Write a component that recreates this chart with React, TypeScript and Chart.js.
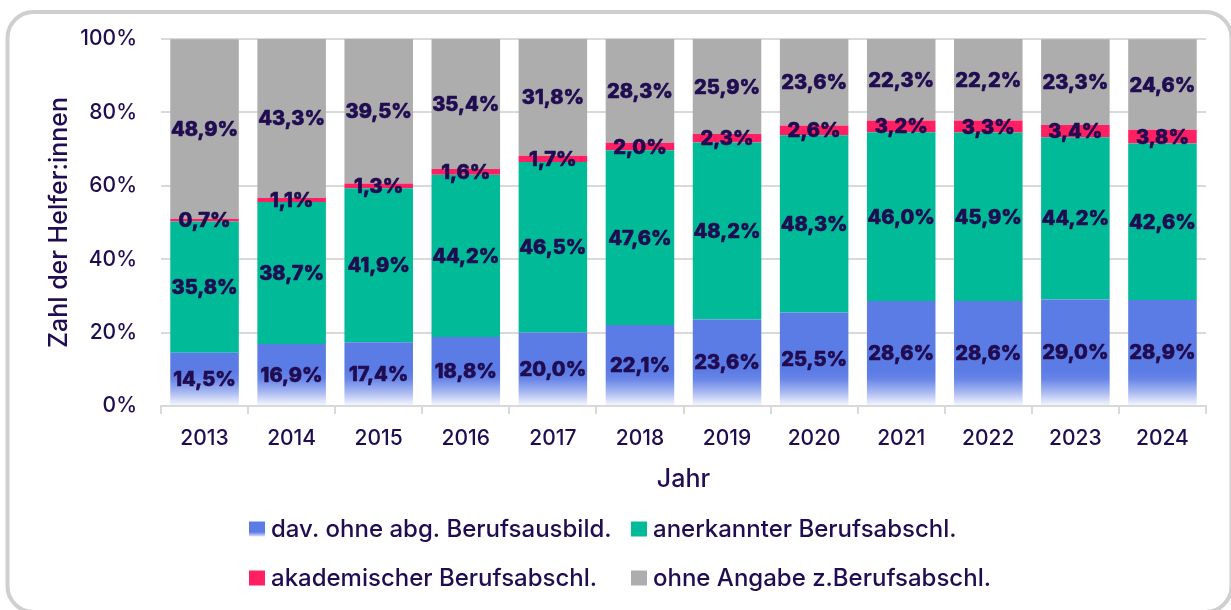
import React, { useEffect, useRef } from 'react';
import { Chart, registerables } from 'chart.js';

Chart.register(...registerables);

// ---- data ----
const years = ['2013', '2014', '2015', '2016', '2017', '2018', '2019', '2020', '2021', '2022', '2023', '2024'];
const ohneAbgBerufsausbildung = [14.5, 16.9, 17.4, 18.8, 20.0, 22.1, 23.6, 25.5, 28.6, 28.6, 29.0, 28.9];
const anerkannterAbschluss = [35.8, 38.7, 41.9, 44.2, 46.5, 47.6, 48.2, 48.3, 46.0, 45.9, 44.2, 42.6];
const akademischerAbschluss = [0.7, 1.1, 1.3, 1.6, 1.7, 2.0, 2.3, 2.6, 3.2, 3.3, 3.4, 3.8];
const ohneAngabe = [48.9, 43.3, 39.5, 35.4, 31.8, 28.3, 25.9, 23.6, 22.3, 22.2, 23.3, 24.6];
const seriesLabels = [
  'dav. ohne abg. Berufsausbild.',
  'anerkannter Berufsabschl.',
  'akademischer Berufsabschl.',
  'ohne Angabe z.Berufsabschl.',
];
const yAxisTitle = 'Zahl der Helfer:innen';
const xAxisTitle = 'Jahr';

// ---- styles ----
const TEXT = '#200C50';
const FONT = 'Inter, "Noto Sans", sans-serif';
const BLUE = '#5B7BE5';
const GREEN = '#00BA98';
const PINK = '#FF1F63';
const GRAY = '#ADADAD';
const GRID = '#D9D9D9';

const fmt = (v: number) => v.toFixed(1).replace('.', ',') + '%';

function blueGradient(c: CanvasRenderingContext2D, bottom: number, span: number) {
  const g = c.createLinearGradient(0, bottom, 0, bottom - span);
  g.addColorStop(0, 'rgba(91,123,229,0.04)');
  g.addColorStop(0.4, 'rgba(91,123,229,0.55)');
  g.addColorStop(0.75, 'rgba(91,123,229,0.92)');
  g.addColorStop(1, BLUE);
  return g;
}

const framePlugin = {
  id: 'frame',
  beforeDraw(chart: any) {
    const c = chart.ctx as CanvasRenderingContext2D;
    c.save();
    c.fillStyle = '#ffffff';
    c.fillRect(0, 0, chart.width, chart.height);
    c.strokeStyle = '#CFCFCF';
    c.lineWidth = 4;
    c.beginPath();
    (c as any).roundRect(7.5, 12, 1224, 600, 26);
    c.stroke();
    c.restore();
  },
};

const labelPlugin = {
  id: 'segLabels',
  afterDatasetsDraw(chart: any) {
    const c = chart.ctx as CanvasRenderingContext2D;
    c.save();
    c.font = `800 20px ${FONT}`;
    c.fillStyle = TEXT;
    c.strokeStyle = TEXT;
    c.lineWidth = 0.6;
    c.lineJoin = 'round';
    c.textAlign = 'center';
    c.textBaseline = 'middle';
    chart.data.datasets.forEach((ds: any, di: number) => {
      const meta = chart.getDatasetMeta(di);
      meta.data.forEach((bar: any, i: number) => {
        const v = ds.data[i];
        const y = (bar.y + bar.base) / 2;
        c.fillText(fmt(v), bar.x, y + 1);
        c.strokeText(fmt(v), bar.x, y + 1);
      });
    });
    c.restore();
  },
};

const legendPlugin = {
  id: 'gridLegend',
  afterDraw(chart: any) {
    const c = chart.ctx as CanvasRenderingContext2D;
    const cols = [249, 631];
    const rows = [529, 578];
    c.save();
    c.font = `500 24px ${FONT}`;
    c.fillStyle = TEXT;
    c.textAlign = 'left';
    c.textBaseline = 'middle';
    chart.data.datasets.forEach((ds: any, i: number) => {
      const x = cols[i % 2];
      const y = rows[Math.floor(i / 2)];
      if (i === 0) {
        const g = c.createLinearGradient(0, y + 7.5, 0, y - 7.5);
        g.addColorStop(0, 'rgba(91,123,229,0.2)');
        g.addColorStop(0.3, BLUE);
        g.addColorStop(1, BLUE);
        c.fillStyle = g;
      } else {
        c.fillStyle = ds.legendColor;
      }
      c.fillRect(x, y - 7.5, 16, 15);
      c.fillStyle = TEXT;
      c.fillText(ds.label, x + 22, y + 1);
    });
    c.restore();
  },
};

export default function App() {
  const ref = useRef<HTMLCanvasElement | null>(null);

  useEffect(() => {
    document.body.style.margin = '0';
    if (!ref.current) return;
    const chart = new Chart(ref.current, {
      type: 'bar',
      data: {
        labels: years,
        datasets: [
          {
            label: seriesLabels[0],
            data: ohneAbgBerufsausbildung,
            legendColor: BLUE,
            backgroundColor: (ctx: any) => {
              const area = ctx.chart.chartArea;
              if (!area) return BLUE;
              return blueGradient(ctx.chart.ctx, area.bottom, 36);
            },
          } as any,
          { label: seriesLabels[1], data: anerkannterAbschluss, backgroundColor: GREEN, legendColor: GREEN } as any,
          { label: seriesLabels[2], data: akademischerAbschluss, backgroundColor: PINK, legendColor: PINK } as any,
          { label: seriesLabels[3], data: ohneAngabe, backgroundColor: GRAY, legendColor: GRAY } as any,
        ],
      },
      options: {
        responsive: false,
        animation: false,
        devicePixelRatio: 1,
        datasets: { bar: { categoryPercentage: 1, barPercentage: 0.787, borderWidth: 0 } },
        layout: { padding: { left: 0, right: 25, top: 39, bottom: 110 } },
        plugins: {
          legend: { display: false },
          tooltip: { enabled: false },
          title: { display: false },
        },
        scales: {
          x: {
            stacked: true,
            offset: true,
            afterFit: (s: any) => { s.height = 94; },
            grid: {
              drawOnChartArea: false,
              drawTicks: true,
              tickLength: 8,
              color: GRID,
              lineWidth: 2,
              offset: true,
            },
            border: { display: true, color: GRID, width: 2 },
            ticks: {
              color: TEXT,
              font: { family: FONT, size: 21, weight: '500' },
              padding: 12,
              maxRotation: 0,
            },
            title: {
              display: true,
              text: xAxisTitle,
              color: TEXT,
              font: { family: FONT, size: 25, weight: '500' },
              padding: { top: 0, bottom: 6 },
            },
          },
          y: {
            stacked: true,
            min: 0,
            max: 100,
            afterFit: (s: any) => { s.width = 161; },
            grid: { color: GRID, lineWidth: 2, drawTicks: false },
            border: { display: false },
            ticks: {
              stepSize: 20,
              color: TEXT,
              font: { family: FONT, size: 21, weight: '500' },
              padding: 24,
              callback: (v: any) => v + '%',
            },
            title: {
              display: true,
              text: yAxisTitle,
              color: TEXT,
              font: { family: FONT, size: 25, weight: '500' },
              padding: { top: 44, bottom: 0 },
            },
          },
        },
      } as any,
      plugins: [framePlugin, labelPlugin, legendPlugin],
    });
    return () => chart.destroy();
  }, []);

  return (
    <div style={{ width: 1231, height: 610, position: 'relative' }}>
      <canvas ref={ref} width={1231} height={610} style={{ width: 1231, height: 610, display: 'block' }} />
    </div>
  );
}
